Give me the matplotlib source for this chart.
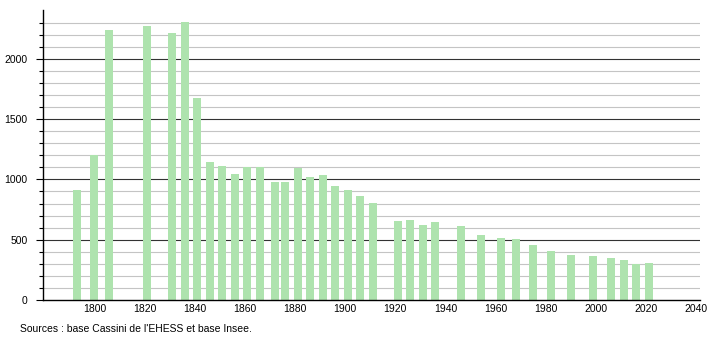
import matplotlib
matplotlib.use("Agg")
import matplotlib.pyplot as plt
import numpy as np

plt.rcParams['font.family'] = ['Liberation Sans', 'DejaVu Sans']

years = [1793, 1800, 1806, 1821, 1831, 1836, 1841, 1846, 1851, 1856, 1861, 1866,
         1872, 1876, 1881, 1886, 1891, 1896, 1901, 1906, 1911, 1921, 1926, 1931,
         1936, 1946, 1954, 1962, 1968, 1975, 1982, 1990, 1999, 2006, 2011, 2016, 2021]
population = [913, 1200, 2241, 2274, 2216, 2307, 1676, 1145, 1112, 1046, 1104, 1104,
              979, 979, 1095, 1021, 1037, 946, 913, 863, 805, 656, 664, 622,
              647, 614, 539, 515, 506, 456, 407, 373, 365, 349, 332, 299, 307]
x_ticks = [1800, 1820, 1840, 1860, 1880, 1900, 1920, 1940, 1960, 1980, 2000, 2020, 2040]
y_ticks = [0, 500, 1000, 1500, 2000]
source_text = "Sources : base Cassini de l'EHESS et base Insee."

fig = plt.figure(figsize=(7.1, 3.4), dpi=100)
ax = fig.add_axes([43/710, 40/340, 657/710, 290/340])

xmin, xmax = 1779.5, 2041.5
ymax = 2405
ax.set_xlim(xmin, xmax)
ax.set_ylim(0, ymax)

for v in range(100, 2400, 100):
    if v % 500 == 0:
        ax.axhline(v, color='#333333', lw=0.8, zorder=1)
    else:
        ax.axhline(v, color='#c4c4c4', lw=0.8, zorder=1)

ax.bar(years, population, width=3.2, color='#aee3ae', zorder=2)

for s in ['top', 'right']:
    ax.spines[s].set_visible(False)
ax.spines['left'].set_color('black')
ax.spines['bottom'].set_color('black')
ax.spines['left'].set_linewidth(1.0)
ax.spines['bottom'].set_linewidth(1.0)

ax.set_yticks(y_ticks)
ax.set_yticks(list(range(100, 2400, 100)), minor=True)
ax.tick_params(axis='y', which='major', length=5, width=0.8, labelsize=7.5, pad=6)
ax.tick_params(axis='y', which='minor', length=3, width=0.8)
ax.set_xticks(x_ticks)
ax.set_xticklabels([str(t) for t in x_ticks])
ax.tick_params(axis='x', length=0, labelsize=7.5, pad=3)

fig.text(20/710, 1 - 329/340, source_text, fontsize=7.5, va='center', ha='left')

fig.savefig("out.png", dpi=100)
